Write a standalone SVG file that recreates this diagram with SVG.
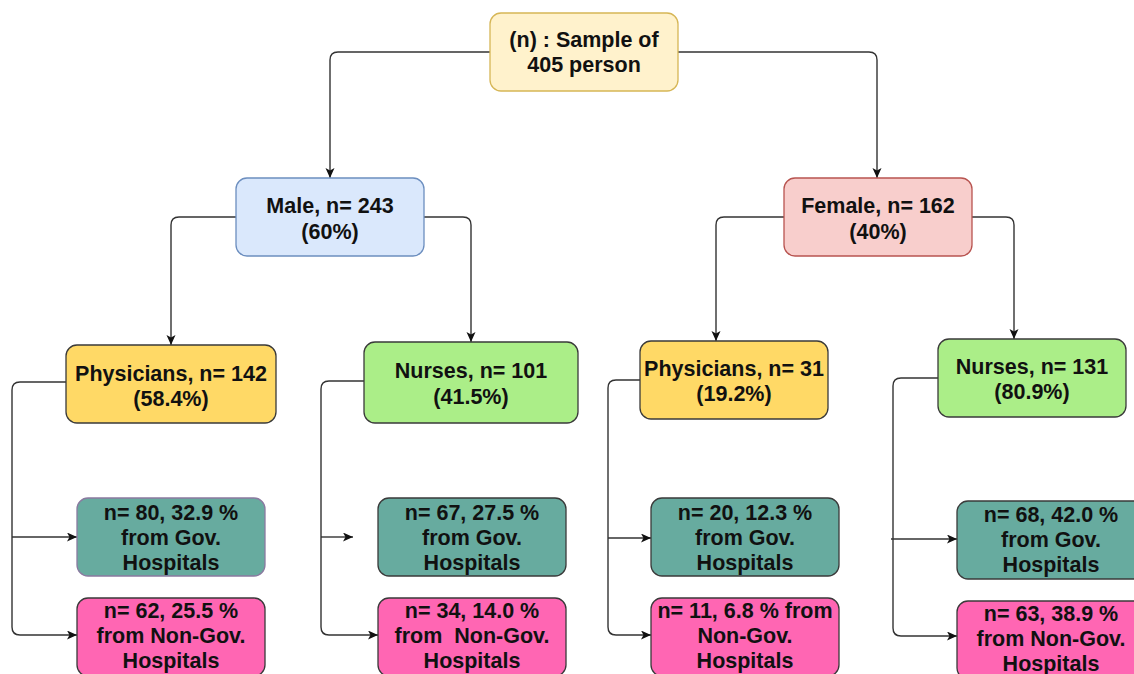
<svg xmlns="http://www.w3.org/2000/svg" width="1134" height="674" viewBox="0 0 1134 674">
<style>
  .box { stroke-width: 1.3; }
  .t { font-family: "Liberation Sans", Arial, sans-serif; font-weight: bold; font-size: 21.5px; fill: #111; text-anchor: middle; }
  .root { fill: #fff2cc; stroke: #d6b656; }
  .male { fill: #dae8fc; stroke: #6c8ebf; }
  .female { fill: #f8cecc; stroke: #b85450; }
  .phys { fill: #ffd966; stroke: #3a3a3a; }
  .nurse { fill: #abee88; stroke: #3a3a3a; }
  .gov { fill: #67ab9f; stroke: #3a3a3a; }
  .gov2 { fill: #67ab9f; stroke: #8a7aa0; }
  .non { fill: #ff66b3; stroke: #3a3a3a; }
  .edge { fill: none; stroke: #333; stroke-width: 1.4; marker-end: url(#arr); }
</style>
<defs>
  <marker id="arr" markerUnits="userSpaceOnUse" markerWidth="12" markerHeight="10" refX="10" refY="4.5" orient="auto">
    <path d="M0,0 L10,4.5 L0,9 L2.5,4.5 Z" fill="#111"/>
  </marker>
</defs>
<rect width="1134" height="674" fill="#ffffff"/>

<g id="connectors">
  <path class="edge" d="M490,52 H338 Q330,52 330,60 V178"/>
  <path class="edge" d="M678,52 H869 Q877,52 877,60 V178"/>
  <path class="edge" d="M236,217 H179 Q171,217 171,225 V345"/>
  <path class="edge" d="M424,217 H463 Q471,217 471,225 V342"/>
  <path class="edge" d="M784,217 H724 Q716,217 716,225 V341"/>
  <path class="edge" d="M972,217 H1006 Q1014,217 1014,225 V339"/>
  <path class="edge" d="M66,382 H20 Q12,382 12,390 V627 Q12,635 20,635 H77"/>
  <path class="edge" d="M12,537 H77"/>
  <path class="edge" d="M364,381 H329 Q321,381 321,389 V627 Q321,635 329,635 H378"/>
  <path class="edge" d="M321,537 H353"/>
  <path class="edge" d="M640,380 H616 Q608,380 608,388 V627 Q608,635 616,635 H651"/>
  <path class="edge" d="M608,538 H651"/>
  <path class="edge" d="M938,378 H901 Q893,378 893,386 V628 Q893,636 901,636 H957"/>
  <path class="edge" d="M891,539 H957"/>
</g>

<g id="root">
  <rect class="box root" x="490" y="13" width="188" height="78" rx="11"/>
  <text class="t" x="584" y="47">(n) : Sample of</text>
  <text class="t" x="584" y="72">405 person</text>
</g>
<g id="male">
  <rect class="box male" x="236" y="178" width="188" height="78" rx="11"/>
  <text class="t" x="330" y="213">Male, n= 243</text>
  <text class="t" x="330" y="239">(60%)</text>
</g>
<g id="female">
  <rect class="box female" x="784" y="178" width="188" height="78" rx="11"/>
  <text class="t" x="878" y="213">Female, n= 162</text>
  <text class="t" x="878" y="239">(40%)</text>
</g>
<g id="male-physicians">
  <rect class="box phys" x="66" y="345" width="210" height="78" rx="11"/>
  <text class="t" x="171" y="381">Physicians, n= 142</text>
  <text class="t" x="171" y="406">(58.4%)</text>
</g>
<g id="male-nurses">
  <rect class="box nurse" x="364" y="342" width="214" height="81" rx="11"/>
  <text class="t" x="471" y="378">Nurses, n= 101</text>
  <text class="t" x="471" y="404">(41.5%)</text>
</g>
<g id="female-physicians">
  <rect class="box phys" x="640" y="341" width="188" height="78" rx="11"/>
  <text class="t" x="734" y="376">Physicians, n= 31</text>
  <text class="t" x="734" y="401">(19.2%)</text>
</g>
<g id="female-nurses">
  <rect class="box nurse" x="938" y="339" width="188" height="78" rx="11"/>
  <text class="t" x="1032" y="374">Nurses, n= 131</text>
  <text class="t" x="1032" y="399">(80.9%)</text>
</g>

<g id="male-phys-gov">
  <rect class="box gov2" x="77" y="498" width="188" height="78" rx="11"/>
  <text class="t" x="171" y="520">n= 80, 32.9 %</text>
  <text class="t" x="171" y="545">from Gov.</text>
  <text class="t" x="171" y="570">Hospitals</text>
</g>
<g id="male-phys-nongov">
  <rect class="box non" x="77" y="598" width="188" height="78" rx="11"/>
  <text class="t" x="171" y="618">n= 62, 25.5 %</text>
  <text class="t" x="171" y="643">from Non-Gov.</text>
  <text class="t" x="171" y="668">Hospitals</text>
</g>
<g id="male-nurse-gov">
  <rect class="box gov" x="378" y="498" width="188" height="78" rx="11"/>
  <text class="t" x="472" y="520">n= 67, 27.5 %</text>
  <text class="t" x="472" y="545">from Gov.</text>
  <text class="t" x="472" y="570">Hospitals</text>
</g>
<g id="male-nurse-nongov">
  <rect class="box non" x="378" y="598" width="188" height="78" rx="11"/>
  <text class="t" x="472" y="618">n= 34, 14.0 %</text>
  <text class="t" x="472" y="643" xml:space="preserve">from  Non-Gov.</text>
  <text class="t" x="472" y="668">Hospitals</text>
</g>
<g id="female-phys-gov">
  <rect class="box gov" x="651" y="498" width="188" height="78" rx="11"/>
  <text class="t" x="745" y="520">n= 20, 12.3 %</text>
  <text class="t" x="745" y="545">from Gov.</text>
  <text class="t" x="745" y="570">Hospitals</text>
</g>
<g id="female-phys-nongov">
  <rect class="box non" x="651" y="598" width="188" height="78" rx="11"/>
  <text class="t" x="745" y="618">n= 11, 6.8 % from</text>
  <text class="t" x="745" y="643">Non-Gov.</text>
  <text class="t" x="745" y="668">Hospitals</text>
</g>
<g id="female-nurse-gov">
  <rect class="box gov" x="957" y="501" width="188" height="78" rx="11"/>
  <text class="t" x="1051" y="522">n= 68, 42.0 %</text>
  <text class="t" x="1051" y="547">from Gov.</text>
  <text class="t" x="1051" y="572">Hospitals</text>
</g>
<g id="female-nurse-nongov">
  <rect class="box non" x="957" y="601" width="188" height="78" rx="11"/>
  <text class="t" x="1051" y="621">n= 63, 38.9 %</text>
  <text class="t" x="1051" y="646">from Non-Gov.</text>
  <text class="t" x="1051" y="671">Hospitals</text>
</g>
</svg>
